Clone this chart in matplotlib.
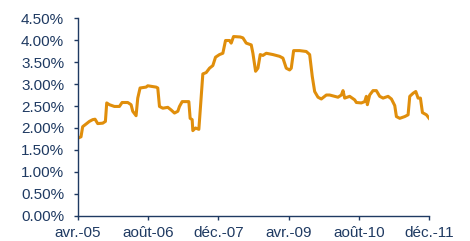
import matplotlib
matplotlib.use("Agg")
import matplotlib.pyplot as plt
from matplotlib.ticker import FuncFormatter

# months elapsed since April 2005
months = [0.0, 0.68, 1.06, 1.83, 2.59, 3.35, 3.88, 4.49, 5.63, 6.24, 6.54, 7.15,
          8.29, 9.43, 10.04, 11.33, 12.09, 12.47, 13.23, 13.61, 14.14, 15.51,
          15.89, 17.79, 18.17, 18.56, 19.32, 20.46, 21.22, 21.98, 22.74, 23.12,
          23.73, 25.25, 25.55, 26.01, 26.16, 26.77, 27.53, 27.91, 28.44, 29.20,
          29.96, 30.72, 31.33, 32.24, 33.00, 33.61, 34.52, 34.90, 35.44, 36.96,
          37.57, 38.33, 39.47, 39.85, 40.46, 40.99, 41.52, 42.13, 42.89, 44.41,
          45.93, 46.69, 47.45, 48.21, 48.59, 49.13, 50.49, 52.01, 52.78, 53.38,
          53.92, 54.68, 55.44, 56.58, 57.34, 58.48, 59.24, 60.00, 60.38, 60.76,
          61.90, 63.04, 63.42, 64.56, 65.32, 65.70, 65.93, 66.46, 67.22, 67.98,
          68.74, 69.51, 70.65, 71.41, 72.17, 72.55, 73.31, 74.45, 75.21, 75.59,
          76.35, 76.96, 77.49, 78.02, 78.48, 79.39, 80.0]
rate = [1.77, 1.80, 2.03, 2.09, 2.15, 2.19, 2.20, 2.10, 2.11, 2.15, 2.57, 2.53,
        2.49, 2.49, 2.58, 2.58, 2.53, 2.38, 2.28, 2.68, 2.91, 2.93,
        2.96, 2.93, 2.91, 2.49, 2.45, 2.47, 2.41, 2.34, 2.38, 2.49,
        2.60, 2.60, 2.22, 2.19, 1.94, 2.00, 1.97, 2.49, 3.23, 3.26,
        3.36, 3.42, 3.61, 3.67, 3.70, 3.99, 3.99, 3.93, 4.08, 4.07,
        4.05, 3.93, 3.89, 3.70, 3.29, 3.36, 3.67, 3.65, 3.70, 3.67,
        3.63, 3.59, 3.36, 3.32, 3.36, 3.76, 3.76, 3.74, 3.67, 3.17,
        2.83, 2.70, 2.66, 2.75, 2.75, 2.72, 2.70, 2.75, 2.85, 2.68,
        2.72, 2.64, 2.58, 2.57, 2.60, 2.72, 2.53, 2.75, 2.85, 2.85,
        2.72, 2.68, 2.72, 2.66, 2.51, 2.26, 2.22, 2.26, 2.30, 2.72,
        2.79, 2.83, 2.68, 2.68, 2.35, 2.30, 2.22]

tick_months = [0, 16, 32, 48, 64, 80]
tick_labels = ["avr.-05", "août-06", "déc.-07", "avr.-09", "août-10", "déc.-11"]

navy = "#1f3a62"
plt.rcParams['font.family'] = ['Liberation Sans', 'DejaVu Sans']

fig = plt.figure(figsize=(4.70, 2.41), dpi=100)
ax = fig.add_axes([0.166, 0.104, 0.747, 0.821])
ax.plot(months, rate, color="#e08e0b", lw=2.2, solid_joinstyle="round")

ax.set_xlim(0, 80)
ax.set_ylim(0, 4.5)
ax.set_yticks([i * 0.5 for i in range(10)])
ax.yaxis.set_major_formatter(FuncFormatter(lambda v, p: f"{v:.2f}%"))
ax.set_xticks(tick_months)
ax.set_xticklabels(tick_labels)

for s in ["top", "right"]:
    ax.spines[s].set_visible(False)
for s in ["left", "bottom"]:
    ax.spines[s].set_color(navy)
    ax.spines[s].set_linewidth(1.0)
ax.tick_params(axis="both", colors=navy, labelsize=11, width=1.0)
ax.tick_params(axis="y", length=3, pad=7)
ax.tick_params(axis="x", length=3, pad=4)

fig.savefig("out.png", dpi=100)
